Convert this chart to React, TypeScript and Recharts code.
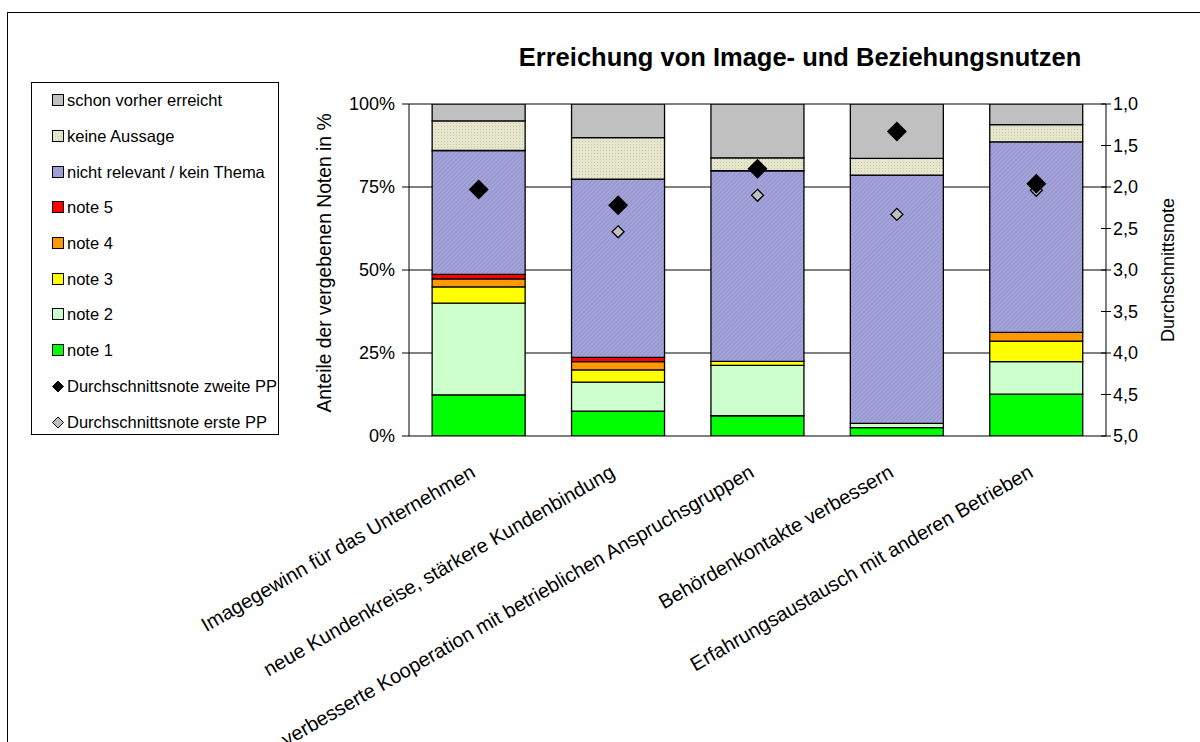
import { ComposedChart, Bar, Line, XAxis, YAxis, CartesianGrid } from 'recharts'

const categories = [
  'Imagegewinn für das Unternehmen',
  'neue Kundenkreise, stärkere Kundenbindung',
  'verbesserte Kooperation mit betrieblichen Anspruchsgruppen',
  'Behördenkontakte verbessern',
  'Erfahrungsaustausch mit anderen Betrieben',
]

// shares in % (stacked bottom -> top)
const note1 = [12.4, 7.5, 6.1, 2.5, 12.6]
const note2 = [27.6, 8.7, 15.2, 1.3, 9.8]
const note3 = [4.9, 3.7, 1.2, 0, 6.2]
const note4 = [2.4, 2.5, 0, 0, 2.6]
const note5 = [1.4, 1.3, 0, 0, 0]
const nichtRelevant = [37.3, 53.7, 57.4, 74.8, 57.4]
const keineAussage = [8.9, 12.5, 3.9, 5.0, 5.2]
const schonVorher = [5.1, 10.1, 16.2, 16.4, 6.2]

// average grades (right axis)
const zweitePP = [2.03, 2.22, 1.78, 1.33, 1.96]
const erstePP = [2.03, 2.54, 2.1, 2.33, 2.04]

const pctTicks = [0, 25, 50, 75, 100]
const noteTicks = [1, 1.5, 2, 2.5, 3, 3.5, 4, 4.5, 5]
const edgeTicks = [0, 1, 2, 3, 4, 5]

const data = categories.map((name, i) => ({
  name,
  note1: note1[i],
  note2: note2[i],
  note3: note3[i],
  note4: note4[i],
  note5: note5[i],
  nichtRelevant: nichtRelevant[i],
  keineAussage: keineAussage[i],
  schonVorher: schonVorher[i],
  zweite: zweitePP[i],
  erste: erstePP[i],
}))

const bars = [
  { key: 'note1', label: 'note 1', fill: '#00FF00' },
  { key: 'note2', label: 'note 2', fill: '#CCFFCC' },
  { key: 'note3', label: 'note 3', fill: '#FFFF00' },
  { key: 'note4', label: 'note 4', fill: '#FF9900' },
  { key: 'note5', label: 'note 5', fill: '#FF0000' },
  { key: 'nichtRelevant', label: 'nicht relevant / kein Thema', fill: 'url(#patNR)' },
  { key: 'keineAussage', label: 'keine Aussage', fill: 'url(#patKA)' },
  { key: 'schonVorher', label: 'schon vorher erreicht', fill: '#C0C0C0' },
]

const font = 'Arial, "Liberation Sans", Helvetica, sans-serif'

function diamond(cx: number, cy: number, r: number) {
  return `${cx},${cy - r} ${cx + r},${cy} ${cx},${cy + r} ${cx - r},${cy}`
}

const blackDot = (p: any) => {
  if (p.cx == null || p.cy == null) return <g key={`b${p.index}`} />
  return <polygon key={`b${p.index}`} points={diamond(p.cx, p.cy, 10)} fill="#000" />
}

const grayDot = (p: any) => {
  if (p.cx == null || p.cy == null) return <g key={`g${p.index}`} />
  return <polygon key={`g${p.index}`} points={diamond(p.cx, p.cy, 6)} fill="#C0C0C0" stroke="#000" strokeWidth={1.3} />
}

function CategoryTick(props: any) {
  const { x, y, payload } = props
  const tx = x - 2
  const ty = y + 40
  return (
    <text x={tx} y={ty} transform={`rotate(-30, ${tx}, ${ty})`} textAnchor="end" fontSize={20} fontFamily={font} fill="#000">
      {payload.value}
    </text>
  )
}

function RightTick(props: any) {
  const { x, y, payload } = props
  return (
    <g>
      <line x1={x - 5} x2={x + 5} y1={y} y2={y} stroke="#000" />
      <text x={x + 7} y={y} dy="0.355em" textAnchor="start" fontSize={18} fontFamily={font} fill="#000">
        {payload.value.toFixed(1).replace('.', ',')}
      </text>
    </g>
  )
}

function Marker({ fill }: { fill: string }) {
  return (
    <svg width={13} height={13} style={{ display: 'block' }}>
      <rect x={0.5} y={0.5} width={11} height={11} fill={fill} stroke="#000" />
    </svg>
  )
}

function DiamondMarker({ fill }: { fill: string }) {
  return (
    <svg width={13} height={13} style={{ display: 'block' }}>
      <polygon points={diamond(6, 6.5, 5.5)} fill={fill} stroke="#000" />
    </svg>
  )
}

function LegendBox() {
  const items = [...bars].reverse().map(b => ({ label: b.label, m: <Marker fill={b.fill} /> }))
  items.push({ label: 'Durchschnittsnote zweite PP', m: <DiamondMarker fill="#000" /> })
  items.push({ label: 'Durchschnittsnote erste PP', m: <DiamondMarker fill="#C0C0C0" /> })
  return (
    <div style={{ position: 'absolute', left: 31, top: 82, width: 248, height: 353, border: '1px solid #000', boxSizing: 'border-box', background: '#fff' }}>
      {items.map(it => (
        <div key={it.label} style={{ height: 35.7, display: 'flex', alignItems: 'center', paddingLeft: 20 }}>
          {it.m}
          <span style={{ marginLeft: 2, fontSize: 16.5, fontFamily: font, color: '#000', whiteSpace: 'nowrap' }}>{it.label}</span>
        </div>
      ))}
    </div>
  )
}

export default function App() {
  return (
    <div style={{ position: 'absolute', left: 0, top: 0, width: 1200, height: 742, overflow: 'hidden', background: '#fff' }}>
      <div style={{ position: 'absolute', left: 7, top: 12, width: 1300, height: 900, borderLeft: '1px solid #000', borderTop: '1px solid #000' }} />
      <div style={{ position: 'absolute', left: 0, top: 0 }}>
        <ComposedChart width={1200} height={742} data={data} margin={{ top: 104, right: 34, bottom: 106, left: 339 }} barCategoryGap="16.6%">
          <defs>
            <pattern id="patNR" width="3" height="3" patternUnits="userSpaceOnUse" patternTransform="rotate(45)">
              <rect width="3" height="3" fill="#A4A4DA" />
              <line x1="0" y1="0" x2="0" y2="3" stroke="#8787C4" strokeWidth="1.2" />
            </pattern>
            <pattern id="patKA" width="3" height="3" patternUnits="userSpaceOnUse">
              <rect width="3" height="3" fill="#E6E6CC" />
              <rect width="1" height="1" fill="#C9C9A8" />
            </pattern>
          </defs>
          <text x={800} y={66} textAnchor="middle" fontSize={25.5} fontWeight="bold" fontFamily={font} fill="#000">
            Erreichung von Image- und Beziehungsnutzen
          </text>
          <text x={324} y={263} transform="rotate(-90, 324, 263)" textAnchor="middle" dominantBaseline="central" fontSize={19.3} fontFamily={font} fill="#000">
            Anteile der vergebenen Noten in %
          </text>
          <text x={1168} y={270} transform="rotate(-90, 1168, 270)" textAnchor="middle" dominantBaseline="central" fontSize={18} fontFamily={font} fill="#000">
            Durchschnittsnote
          </text>
          <CartesianGrid xAxisId="cat" yAxisId="left" vertical={false} stroke="#000" />
          <XAxis xAxisId="edge" type="number" domain={[0, 5]} ticks={edgeTicks} tick={false} tickSize={6} height={0} stroke="#000" allowDataOverflow />
          <XAxis xAxisId="cat" dataKey="name" height={200} axisLine={false} tickLine={false} tickSize={0} tickMargin={0} interval={0} tick={(p: any) => <CategoryTick {...p} />} />
          <YAxis yAxisId="left" domain={[0, 100]} ticks={pctTicks} tickFormatter={(v: number) => `${v}%`} width={70} tickSize={7} tickMargin={7} stroke="#000" tick={{ fill: '#000', fontSize: 18, fontFamily: font }} allowDataOverflow />
          <YAxis yAxisId="right" orientation="right" domain={[1, 5]} reversed ticks={noteTicks} width={60} tickLine={false} tickSize={0} tickMargin={0} stroke="#000" tick={(p: any) => <RightTick {...p} />} allowDataOverflow />
          {bars.map(b => (
            <Bar key={b.key} xAxisId="cat" yAxisId="left" dataKey={b.key} name={b.label} stackId="a" fill={b.fill} stroke="#000" strokeWidth={1.3} isAnimationActive={false} />
          ))}
          <Line xAxisId="cat" yAxisId="right" dataKey="erste" stroke="none" dot={grayDot} activeDot={false} isAnimationActive={false} />
          <Line xAxisId="cat" yAxisId="right" dataKey="zweite" stroke="none" dot={blackDot} activeDot={false} isAnimationActive={false} />
        </ComposedChart>
      </div>
      <LegendBox />
    </div>
  )
}
